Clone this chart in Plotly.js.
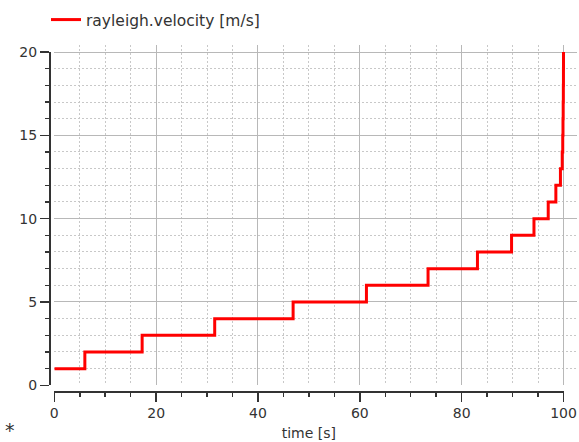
<!DOCTYPE html>
<html>
<head>
<meta charset="utf-8">
<script src="https://cdn.plot.ly/plotly-3.0.1.min.js"></script>
<style>html,body{margin:0;padding:0;background:#fff;}#chart{width:579px;height:442px;}</style>
</head>
<body>
<div id="chart"></div>
<script>
// Data
const seriesName = "rayleigh.velocity [m/s]";
const timeS = [0, 6.0, 17.25, 31.5, 46.9, 61.3, 73.4, 83.1, 89.8, 94.2, 97.0, 98.5, 99.4, 99.75, 99.85, 99.9, 99.94, 99.97, 99.99, 100];
const velocity = [1, 2, 3, 4, 5, 6, 7, 8, 9, 10, 11, 12, 13, 14, 15, 16, 17, 18, 19, 20];
const xTitle = "time [s]";
const xMax = 100, yMax = 20;

// geometry
const W = 579, H = 442;
const mL = 49, mR = 2, mT = 45, mB = 51;
const pW = W - mL - mR, pH = H - mT - mB;
const xOff = 5.3, xPx = 5.092;      // px offset of plot from axis line, px per unit
const yOff = 5.7, yPx = 16.665;
const e = xOff / pW, e2 = (xOff + xMax * xPx) / pW;
const d = yOff / pH, d2 = (yOff + yMax * yPx) / pH;
const xR = (pW - xOff) / xPx, yR = (pH - yOff) / yPx;

const font = {family: "DejaVu Sans, sans-serif", size: 14, color: "#333333"};
const gridCol = "#b8b8b8", minorCol = "#c8c8c8", axCol = "#333333";

const trace = {
  x: timeS, y: velocity, name: seriesName, type: "scatter", mode: "lines",
  line: {color: "#ff0000", width: 3, shape: "hv"},
  xaxis: "x", yaxis: "y", showlegend: true, hoverinfo: "skip"
};
// carrier for the offset axes (draws nothing)
const axisCarrier = {
  x: timeS, y: velocity, type: "scatter", mode: "none", showlegend: false, hoverinfo: "skip",
  xaxis: "x2", yaxis: "y2"
};

const layout = {
  width: W, height: H,
  margin: {l: mL, r: mR, t: mT, b: mB, pad: 0},
  paper_bgcolor: "#ffffff", plot_bgcolor: "rgba(0,0,0,0)",
  font: font,
  showlegend: true,
  legend: {xref: "container", yref: "container", x: 46 / W, y: 1 - 3 / H, xanchor: "left", yanchor: "top",
           orientation: "h", font: {family: font.family, size: 15.5, color: "#333333"}, bgcolor: "rgba(0,0,0,0)"},
  xaxis: {domain: [e, 1], range: [0, xR], anchor: "y", showline: false, zeroline: false,
          showticklabels: false, ticks: "", showgrid: true, gridcolor: gridCol, gridwidth: 1,
          tick0: 0, dtick: 20,
          minor: {dtick: 5, tick0: 0, showgrid: true, gridcolor: minorCol, griddash: "2px,2px", gridwidth: 1, ticks: ""}},
  yaxis: {domain: [d, 1], range: [0, yR], anchor: "x", showline: false, zeroline: false,
          showticklabels: false, ticks: "", showgrid: true, gridcolor: gridCol, gridwidth: 1,
          tick0: 0, dtick: 5,
          minor: {dtick: 1, tick0: 0, showgrid: true, gridcolor: minorCol, griddash: "2px,2px", gridwidth: 1, ticks: ""}},
  xaxis2: {domain: [e, e2], range: [0, xMax], anchor: "free", position: 0, showgrid: false, zeroline: false,
           showline: true, linecolor: axCol, linewidth: 1.5, ticks: "outside", ticklen: 9, tickwidth: 1.5,
           tickcolor: axCol, tick0: 0, dtick: 20, tickfont: font,
           minor: {dtick: 5, tick0: 0, ticks: "outside", ticklen: 4, tickwidth: 1.5, tickcolor: axCol, showgrid: false},
           title: {text: xTitle, font: font, standoff: 8}},
  yaxis2: {domain: [d, d2], range: [0, yMax], anchor: "free", position: 0, showgrid: false, zeroline: false,
           showline: true, linecolor: axCol, linewidth: 1.5, ticks: "outside", ticklen: 9, tickwidth: 1.5,
           tickcolor: axCol, tick0: 0, dtick: 5, tickfont: font,
           minor: {dtick: 1, tick0: 0, ticks: "outside", ticklen: 4, tickwidth: 1.5, tickcolor: axCol, showgrid: false}},
  annotations: [{text: "*", xref: "paper", yref: "paper", x: (10 - mL) / pW, y: -(mB - 0.5) / pH, xanchor: "center", yanchor: "bottom",
                 borderpad: 0, showarrow: false, font: {family: font.family, size: 19, color: "#333333"}}]
};

Plotly.newPlot("chart", [trace, axisCarrier], layout, {displayModeBar: false, staticPlot: true});
</script>
</body>
</html>
